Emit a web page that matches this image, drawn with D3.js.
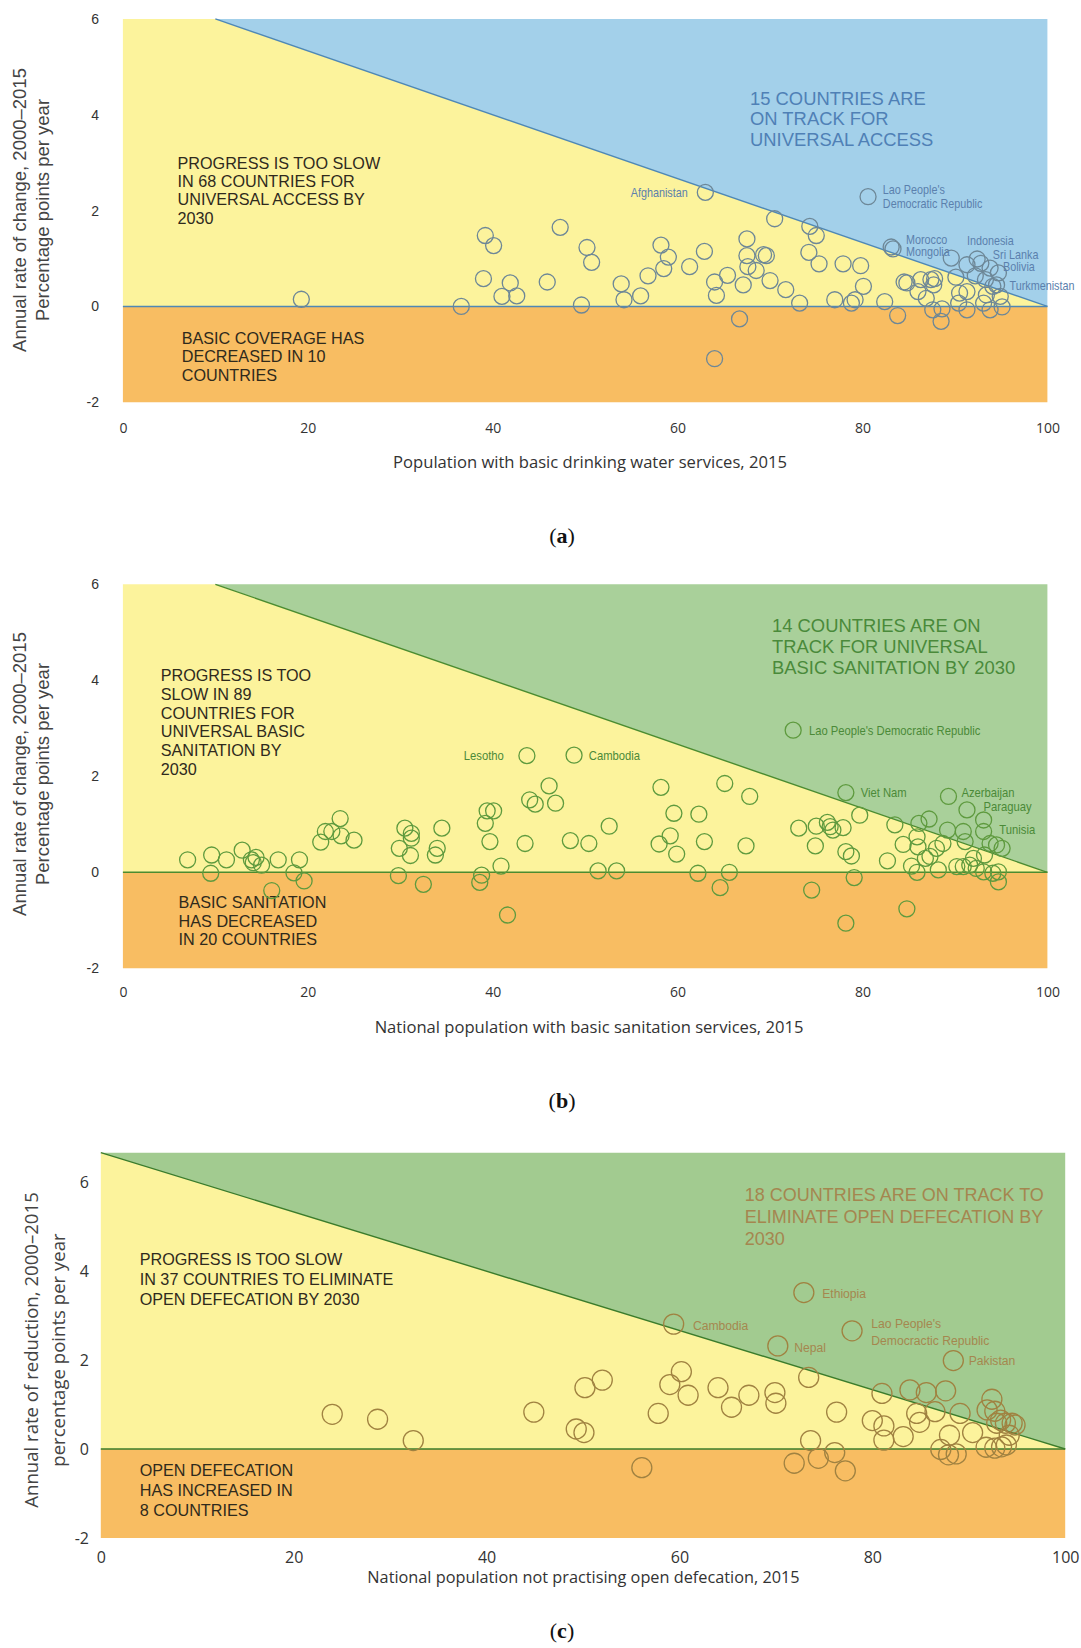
<!DOCTYPE html>
<html>
<head>
<meta charset="utf-8">
<script src="https://cdn.jsdelivr.net/npm/d3@7"></script>
<style>
  body { margin: 0; background: #fff; }
  svg { display: block; }
</style>
</head>
<body>
<div id="chart"></div>
<script>
// ---- data ----
// (a) basic drinking water: coverage 2015 vs annual rate of change
const waterX = [19.3,36.6,39.2,40.1,39.0,41.9,41.0,42.6,45.9,47.3,49.6,50.2,50.7,53.9,54.2,56.0,56.8,58.2,59.0,58.5,
  61.3,62.9,63.0,64.0,64.2,64.0,65.4,66.7,67.5,67.5,67.6,68.5,69.3,69.6,67.1,70.0,70.5,71.7,73.2,74.3,
  75.0,74.2,75.3,77.0,77.9,79.8,80.1,78.8,79.2,80.6,82.4,83.8,83.1,83.3,84.5,84.8,86.3,86.0,86.9,87.4,
  87.8,87.7,87.6,88.6,88.5,89.6,90.1,90.5,91.3,91.3,91.3,92.4,92.8,92.2,93.3,93.4,93.8,94.1,94.7,94.5,
  94.9,95.1,90.4,93.1,93.8];
const waterY = [0.15,0.0,1.48,1.27,0.58,0.49,0.21,0.22,0.51,1.65,0.03,1.23,0.92,0.47,0.14,0.22,0.64,1.28,1.03,0.79,
  0.83,1.15,2.38,0.51,0.23,-1.09,0.65,-0.26,1.41,1.06,0.83,0.75,1.08,1.06,0.45,0.54,1.83,0.35,0.07,1.67,
  1.48,1.13,0.89,0.14,0.89,0.85,0.42,0.07,0.14,2.29,0.10,-0.19,1.24,1.20,0.51,0.49,0.56,0.31,0.17,0.56,
  0.58,0.45,-0.07,-0.05,-0.31,1.01,0.61,0.28,0.31,-0.07,0.87,0.99,0.90,0.64,0.56,0.24,-0.07,0.42,0.70,0.45,
  0.21,-0.01,0.07,0.07,0.80];
const waterLabels = [
  {name: "Afghanistan", x: 61.1, y: 2.38, anchor: "end"},
  {name: "Lao People's", x: 82.2, y: 2.43, anchor: "start"},
  {name: "Democratic Republic", x: 82.2, y: 2.15, anchor: "start"},
  {name: "Morocco", x: 84.7, y: 1.40, anchor: "start"},
  {name: "Mongolia", x: 84.7, y: 1.15, anchor: "start"},
  {name: "Indonesia", x: 91.3, y: 1.37, anchor: "start"},
  {name: "Sri Lanka", x: 94.1, y: 1.08, anchor: "start"},
  {name: "Bolivia", x: 95.2, y: 0.84, anchor: "start"},
  {name: "Turkmenistan", x: 95.9, y: 0.43, anchor: "start"}
];

// (b) basic sanitation
const sanX = [7.0,9.5,9.6,11.2,12.9,13.9,14.4,14.1,15.0,16.8,16.1,18.5,19.1,19.6,21.4,21.9,22.6,23.5,23.6,25.0,
  29.8,29.9,30.5,31.2,31.2,31.1,32.5,34.5,34.0,33.8,38.6,38.8,39.2,39.4,40.1,39.7,40.9,41.6,43.5,44.0,
  44.6,46.1,46.8,43.7,48.8,48.4,50.4,51.4,53.4,52.6,58.2,58.0,59.2,59.6,59.9,62.3,62.9,62.2,64.6,65.6,
  65.1,67.8,67.4,72.5,73.1,74.5,74.9,75.0,76.2,76.8,76.5,77.9,78.2,78.8,79.1,78.2,78.2,79.7,82.7,83.5,
  84.4,84.8,85.3,85.9,86.0,86.1,87.2,85.9,86.8,87.3,88.0,88.2,88.7,89.2,89.3,90.2,90.9,91.1,91.3,90.9,
  91.6,92.0,92.3,93.1,93.1,93.2,93.1,93.8,94.5,95.1,94.7,94.7,94.1];
const sanY = [0.26,-0.02,0.36,0.26,0.46,0.26,0.31,0.20,0.15,0.26,-0.38,-0.01,0.26,-0.18,0.63,0.85,0.85,1.12,0.76,0.67,
  -0.07,0.50,0.92,0.81,0.71,0.35,-0.25,0.92,0.50,0.36,-0.21,-0.06,1.02,1.28,1.28,0.64,0.13,-0.89,0.60,1.51,
  1.42,1.80,1.44,2.43,2.44,0.66,0.60,0.03,0.03,0.96,1.77,0.59,0.76,1.23,0.38,1.21,0.64,-0.02,-0.32,0.0,
  1.85,1.58,0.55,2.96,0.92,-0.37,0.55,0.96,1.04,0.88,0.95,0.93,0.43,0.34,-0.11,-1.06,1.66,1.19,0.24,0.99,
  0.58,-0.76,0.13,0.74,0.53,1.02,1.11,0.0,0.29,0.33,0.50,0.05,0.60,0.88,1.58,0.12,0.85,0.64,1.30,0.12,
  0.15,0.29,0.08,1.09,0.85,0.36,0.01,0.60,0.57,0.50,0.01,-0.20,-0.02];
const sanLabels = [
  {name: "Lesotho", x: 41.2, y: 2.43, anchor: "end"},
  {name: "Cambodia", x: 50.4, y: 2.44, anchor: "start"},
  {name: "Lao People's Democratic Republic", x: 74.2, y: 2.96, anchor: "start"},
  {name: "Viet Nam", x: 79.8, y: 1.66, anchor: "start"},
  {name: "Azerbaijan", x: 90.7, y: 1.67, anchor: "start"},
  {name: "Paraguay", x: 93.1, y: 1.37, anchor: "start"},
  {name: "Tunisia", x: 94.8, y: 0.90, anchor: "start"}
];

// (c) open defecation
const odX = [24.0,28.7,32.4,44.9,50.2,52.0,49.3,50.1,56.1,57.8,59.0,60.2,60.9,59.4,64.0,65.4,67.2,69.9,70.0,70.2,
  72.9,73.4,73.6,71.9,74.4,76.1,77.2,76.3,77.9,80.0,81.0,81.2,81.2,83.2,83.9,84.6,84.9,85.6,87.6,86.5,
  88.0,87.1,87.9,88.7,89.1,88.4,90.4,92.4,91.9,92.7,93.3,93.8,94.5,94.8,92.9,94.2,91.8,92.7,93.4,93.9];
const odY = [0.78,0.67,0.19,0.83,1.38,1.55,0.45,0.37,-0.42,0.80,1.45,1.74,1.21,2.81,1.38,0.94,1.21,1.27,1.03,2.32,
  3.52,1.61,0.19,-0.32,-0.21,-0.08,-0.49,0.83,2.66,0.64,1.25,0.52,0.20,0.28,1.33,0.80,0.60,1.27,1.31,0.84,
  0.31,-0.01,-0.13,-0.11,0.80,1.99,0.37,1.12,0.88,0.85,0.65,0.58,0.58,0.54,0.58,0.31,0.04,0.02,0.05,0.09];
const odLabels = [
  {name: "Cambodia", x: 61.4, y: 2.79, anchor: "start"},
  {name: "Ethiopia", x: 74.8, y: 3.51, anchor: "start"},
  {name: "Nepal", x: 71.9, y: 2.30, anchor: "start"},
  {name: "Lao People's", x: 79.9, y: 2.84, anchor: "start"},
  {name: "Democractic Republic", x: 79.9, y: 2.45, anchor: "start"},
  {name: "Pakistan", x: 90.0, y: 1.99, anchor: "start"}
];

const xTicks = [0, 20, 40, 60, 80, 100];
const yTicks = [-2, 0, 2, 4, 6];

// ---- drawing ----
const W = 1081, H = 1648;
const YELLOW = "#fcf39c", ORANGE = "#f8bd62";
const SANS = "'Liberation Sans', Arial, sans-serif";
const HUMAN = "'Open Sans', 'Noto Sans', sans-serif";

const svg = d3.select("#chart").append("svg")
  .attr("width", W).attr("height", H)
  .style("background", "#fff");

const panels = [
  {
    letter: "a", xs: waterX, ys: waterY, labels: waterLabels,
    left: 122.9, right: 1047.4, top: 18.9, bottom: 402.3, yMax: 6,
    upper: "#a3d0ea", line: "#4f88b5", ring: "#6d8797", labelColor: "#5b80ad", r: 8, labelSize: 12,
    xTickY: 427.5, yTickX: 99, tickSize: 14, yTickFont: SANS, xTickFont: HUMAN,
    yTitle: ["Annual rate of change, 2000\u20132015", "Percentage points per year"],
    yTitleX: [19, 42], yTitleY: 210, yTitleFont: SANS, yTitleSize: 18.5,
    xTitle: "Population with basic drinking water services, 2015", xTitleX: 590, xTitleY: 462, xTitleSize: 16.6,
    letterY: 535,
    notes: [
      {lines: ["PROGRESS IS TOO SLOW", "IN 68 COUNTRIES FOR", "UNIVERSAL ACCESS BY", "2030"], x: 177.5, y: 162.8, step: 18.3, size: 16.2, color: "#2f2a1c"},
      {lines: ["BASIC COVERAGE HAS", "DECREASED IN 10", "COUNTRIES"], x: 181.7, y: 338, step: 18.5, size: 16.2, color: "#2f2a1c"},
      {lines: ["15 COUNTRIES ARE", "ON TRACK FOR", "UNIVERSAL ACCESS"], x: 750, y: 98, step: 20.5, size: 18.4, color: "#4f80b6"}
    ]
  },
  {
    letter: "b", xs: sanX, ys: sanY, labels: sanLabels,
    left: 122.9, right: 1047.4, top: 584.3, bottom: 968.3, yMax: 6,
    upper: "#a9d09a", line: "#4b8c30", ring: "#5e9a3e", labelColor: "#4b8a38", r: 8, labelSize: 12.5,
    xTickY: 991.7, yTickX: 99, tickSize: 14, yTickFont: SANS, xTickFont: HUMAN,
    yTitle: ["Annual rate of change, 2000\u20132015", "Percentage points per year"],
    yTitleX: [19, 42], yTitleY: 774, yTitleFont: SANS, yTitleSize: 18.5,
    xTitle: "National population with basic sanitation services, 2015", xTitleX: 589, xTitleY: 1027, xTitleSize: 16.6,
    letterY: 1100,
    notes: [
      {lines: ["PROGRESS IS TOO", "SLOW IN 89", "COUNTRIES FOR", "UNIVERSAL BASIC", "SANITATION BY", "2030"], x: 160.7, y: 675.5, step: 18.7, size: 16.2, color: "#2f2a1c"},
      {lines: ["BASIC SANITATION", "HAS DECREASED", "IN 20 COUNTRIES"], x: 178.6, y: 902.4, step: 18.4, size: 16.2, color: "#2f2a1c"},
      {lines: ["14 COUNTRIES ARE ON", "TRACK FOR UNIVERSAL", "BASIC SANITATION BY 2030"], x: 772, y: 625, step: 21, size: 18.4, color: "#4a8a3a"}
    ]
  },
  {
    letter: "c", xs: odX, ys: odY, labels: odLabels,
    left: 100.8, right: 1065.2, top: 1152.7, bottom: 1537.9, yMax: 100 / 15,
    upper: "#a2cb90", line: "#3b7c2b", ring: "#a08241", labelColor: "#a5874f", r: 10, labelSize: 13.5,
    xTickY: 1557, yTickX: 89, tickSize: 16, yTickFont: HUMAN, xTickFont: HUMAN,
    yTitle: ["Annual rate of reduction, 2000\u20132015", "percentage points per year"],
    yTitleX: [31.5, 57.8], yTitleY: 1350, yTitleFont: HUMAN, yTitleSize: 18.6,
    xTitle: "National population not practising open defecation, 2015", xTitleX: 583.5, xTitleY: 1577, xTitleSize: 16.3,
    letterY: 1630,
    notes: [
      {lines: ["PROGRESS IS TOO SLOW", "IN 37 COUNTRIES TO ELIMINATE", "OPEN DEFECATION BY 2030"], x: 139.7, y: 1259.5, step: 20, size: 16.2, color: "#2f2a1c"},
      {lines: ["OPEN DEFECATION", "HAS INCREASED IN", "8 COUNTRIES"], x: 139.7, y: 1469.7, step: 20, size: 16.2, color: "#2f2a1c"},
      {lines: ["18 COUNTRIES ARE ON TRACK TO", "ELIMINATE OPEN DEFECATION BY", "2030"], x: 744.8, y: 1194.4, step: 22, size: 18, color: "#a5864f"}
    ]
  }
];

function drawPanel(p) {
  const x = d3.scaleLinear().domain([0, 100]).range([p.left, p.right]);
  const y = d3.scaleLinear().domain([-2, p.yMax]).range([p.bottom, p.top]);
  const g = svg.append("g").attr("class", "panel-" + p.letter);

  // the 2030 line: rate needed to reach 100% in 15 years
  const xTop = 100 - 15 * p.yMax;
  const area = d3.line().x(d => x(d[0])).y(d => y(d[1]));

  g.append("path").attr("d", area([[0, -2], [100, -2], [100, 0], [0, 0]]) + "Z").attr("fill", ORANGE);
  g.append("path").attr("d", area([[0, 0], [0, p.yMax], [xTop, p.yMax], [100, 0]]) + "Z").attr("fill", YELLOW);
  g.append("path").attr("d", area([[xTop, p.yMax], [100, p.yMax], [100, 0]]) + "Z").attr("fill", p.upper);

  g.append("path").attr("d", area([[0, 0], [100, 0]]))
    .attr("stroke", p.line).attr("stroke-width", 1.4).attr("fill", "none");
  g.append("path").attr("d", area([[xTop, p.yMax], [100, 0]]))
    .attr("stroke", p.line).attr("stroke-width", 1.4).attr("fill", "none");

  // notes
  p.notes.forEach(n => {
    const t = g.append("text")
      .attr("font-family", SANS).attr("font-size", n.size).attr("fill", n.color);
    n.lines.forEach((line, i) => {
      t.append("tspan").attr("x", n.x).attr("y", n.y + i * n.step).attr("dy", "0.36em").text(line);
    });
  });

  // countries
  g.selectAll("circle.pt")
    .data(d3.range(p.xs.length))
    .join("circle")
    .attr("class", "pt")
    .attr("cx", i => x(p.xs[i]))
    .attr("cy", i => y(p.ys[i]))
    .attr("r", p.r)
    .attr("fill", "none")
    .attr("stroke", p.ring)
    .attr("stroke-width", 1.3);

  // country names are set in a narrow face in the original, squeeze them a bit
  g.selectAll("text.lbl")
    .data(p.labels)
    .join("text")
    .attr("class", "lbl")
    .attr("transform", d => "translate(" + x(d.x) + "," + y(d.y) + ") scale(0.9,1)")
    .attr("dy", "0.36em")
    .attr("text-anchor", d => d.anchor)
    .attr("font-family", SANS)
    .attr("font-size", p.labelSize)
    .attr("fill", p.labelColor)
    .text(d => d.name);

  // axes
  const xAxis = g.append("g")
    .attr("transform", "translate(0," + p.xTickY + ")")
    .call(d3.axisBottom(x).tickValues(xTicks).tickSize(0).tickPadding(0));
  xAxis.select(".domain").remove();
  xAxis.selectAll("text")
    .attr("y", 0).attr("dy", "0.36em")
    .attr("font-family", p.xTickFont).attr("font-size", p.tickSize).attr("fill", "#333");

  const yAxis = g.append("g")
    .attr("transform", "translate(" + p.yTickX + ",0)")
    .call(d3.axisLeft(y).tickValues(yTicks).tickSize(0).tickPadding(0).tickFormat(d => String(d)));
  yAxis.select(".domain").remove();
  yAxis.selectAll("text")
    .attr("font-family", p.yTickFont).attr("font-size", p.tickSize).attr("fill", "#333");

  // titles
  p.yTitle.forEach((line, i) => {
    g.append("text")
      .attr("transform", "translate(" + p.yTitleX[i] + "," + p.yTitleY + ") rotate(-90)")
      .attr("dy", "0.36em")
      .attr("text-anchor", "middle")
      .attr("font-family", p.yTitleFont).attr("font-size", p.yTitleSize).attr("fill", "#444")
      .text(line);
  });
  g.append("text")
    .attr("x", p.xTitleX).attr("y", p.xTitleY).attr("dy", "0.36em")
    .attr("text-anchor", "middle")
    .attr("font-family", HUMAN).attr("font-size", p.xTitleSize).attr("fill", "#333")
    .text(p.xTitle);

  const lt = g.append("text")
    .attr("x", 562).attr("y", p.letterY).attr("dy", "0.36em")
    .attr("text-anchor", "middle")
    .attr("font-family", "'Liberation Serif', 'DejaVu Serif', serif")
    .attr("font-size", 22).attr("fill", "#111");
  lt.append("tspan").text("(");
  lt.append("tspan").attr("font-weight", "bold").text(p.letter);
  lt.append("tspan").text(")");
}

panels.forEach(drawPanel);
</script>
</body>
</html>
